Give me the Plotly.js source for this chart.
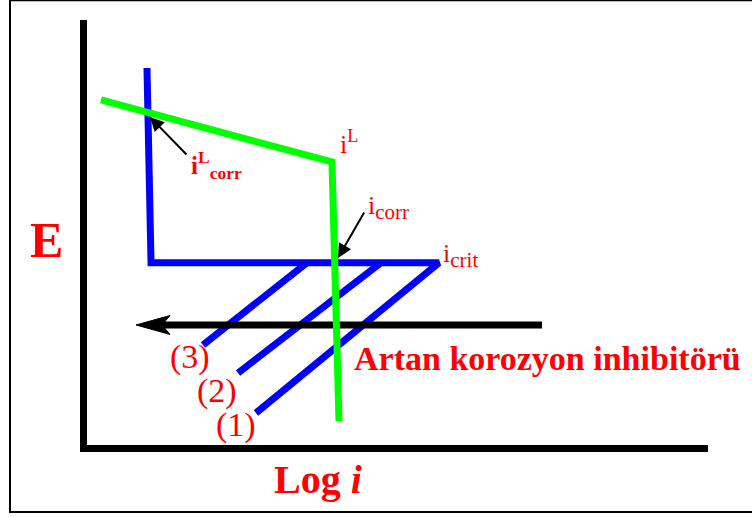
<!DOCTYPE html>
<html><head><meta charset="utf-8">
<script src="https://cdn.plot.ly/plotly-3.0.1.min.js"></script>
<style>html,body{margin:0;padding:0;background:#fff}#chart{width:752px;height:517px}</style>
</head><body><div id="chart"></div><script>
// Schematic data (arbitrary units: log i on x, E on y, both 0..10)
const anodicLogI = [0.966, 1.031, 5.668, 2.721];   // curve (1) incl. passive region
const anodicE    = [8.871, 4.29, 4.29, 0.753];
const curve2LogI = [4.734, 2.432];
const curve2E    = [4.29, 1.694];
const curve3LogI = [3.543, 1.868];
const curve3E    = [4.29, 2.353];
const cathLogI   = [0.225, 3.945, 4.058];
const cathE      = [8.118, 6.659, 0.565];
const inhibArrowLogI = [7.327, 0.789];   // tail, tip
const inhibArrowE    = [2.824, 2.824];
const iLcorrPoint = {x:1.014, y:7.718, tx:1.626, ty:6.8};
const icorrPoint  = {x:4.042, y:4.40, tx:4.477, ty:5.506};

// pixel geometry of plot area
const L = 87, R = 708, T = 20, B = 445;
const pxX = (R - L) / 10, pxY = (B - T) / 10;
const pX = p => (p - L) / (R - L);      // page px -> paper
const pY = p => (B - p) / (B - T);

// arrow head polygon for the big arrow, computed from tip
const tipX = inhibArrowLogI[1], tipY = inhibArrowE[1];
const headLen = 34, headHalf = 9.5, notch = 26;
const headX = [tipX, tipX + headLen / pxX, tipX + notch / pxX, tipX + headLen / pxX, tipX];
const headY = [tipY, tipY + headHalf / pxY, tipY, tipY - headHalf / pxY, tipY];

const serif = 'Liberation Serif, Times New Roman, serif';
const red = '#ff0000';

const traces = [
  {x: anodicLogI, y: anodicE, mode: 'lines', line: {color: '#0000ff', width: 7}},
  {x: curve2LogI, y: curve2E, mode: 'lines', line: {color: '#0000ff', width: 7}},
  {x: curve3LogI, y: curve3E, mode: 'lines', line: {color: '#0000ff', width: 7}},
  {x: [inhibArrowLogI[0], tipX + (notch - 2) / pxX], y: inhibArrowE, mode: 'lines', line: {color: '#000', width: 7}},
  {x: headX, y: headY, mode: 'lines', fill: 'toself', fillcolor: '#000', line: {color: '#000', width: 1}},
  {x: cathLogI, y: cathE, mode: 'lines', line: {color: '#00ff00', width: 7}}
];

function lbl(x, y, text, size, opts) {
  return Object.assign({x: x, y: y, xref: 'x', yref: 'y', text: text, showarrow: false,
    xanchor: 'center', yanchor: 'middle',
    font: {family: serif, size: size, color: red}}, opts || {});
}

const annotations = [
  {x: pX(46), y: pY(240), xref: 'paper', yref: 'paper', text: 'E', showarrow: false,
   xanchor: 'center', yanchor: 'middle', font: {family: serif, size: 50, color: red, weight: 'bold'}},
  {x: pX(318), y: pY(480), xref: 'paper', yref: 'paper', text: 'Log <i>i</i>', showarrow: false,
   xanchor: 'center', yanchor: 'middle', font: {family: serif, size: 40, color: red, weight: 'bold'}},
  lbl(4.27, 2.04, 'Artan korozyon inhibitörü', 34, {xanchor: 'left', font: {family: serif, size: 34, color: red, weight: 'bold'}}),
  lbl(1.659, 2.06, '(3)', 34),
  lbl(2.093, 1.26, '(2)', 34),
  lbl(2.399, 0.46, '(1)', 34),
  lbl(4.04, 7.12, 'i<sup>L</sup>', 26, {xanchor: 'left'}),
  lbl(1.64, 6.58, 'i<sup>L</sup><sub>corr</sub>', 25, {xanchor: 'left', font: {family: serif, size: 25, color: red, weight: 'bold'}}),
  lbl(4.50, 5.60, 'i<sub><span style="font-size:21px">corr</span></sub>', 26, {xanchor: 'left'}),
  lbl(5.70, 4.47, 'i<sub><span style="font-size:21px">crit</span></sub>', 26, {xanchor: 'left'}),
  {x: iLcorrPoint.x, y: iLcorrPoint.y, ax: iLcorrPoint.tx, ay: iLcorrPoint.ty, axref: 'x', ayref: 'y',
   xref: 'x', yref: 'y', text: '', showarrow: true, arrowhead: 2, arrowsize: 1.4, arrowwidth: 2, arrowcolor: '#000'},
  {x: icorrPoint.x, y: icorrPoint.y, ax: icorrPoint.tx, ay: icorrPoint.ty, axref: 'x', ayref: 'y',
   xref: 'x', yref: 'y', text: '', showarrow: true, arrowhead: 2, arrowsize: 1.4, arrowwidth: 2, arrowcolor: '#000'}
];

const shapes = [
  {type: 'line', xref: 'paper', yref: 'paper', x0: pX(10), x1: pX(10), y0: pY(0), y1: pY(513), line: {color: '#000', width: 2}},
  {type: 'line', xref: 'paper', yref: 'paper', x0: pX(9), x1: pX(752), y0: pY(512), y1: pY(512), line: {color: '#000', width: 2}},
  {type: 'line', xref: 'paper', yref: 'paper', x0: pX(9), x1: pX(752), y0: pY(0.5), y1: pY(0.5), line: {color: '#000', width: 1.5}}
];

const axis = {range: [0, 10], showgrid: false, zeroline: false, showticklabels: false, ticks: '',
  showline: true, linewidth: 7, linecolor: '#000', fixedrange: true};

Plotly.newPlot('chart', traces, {
  width: 752, height: 517, showlegend: false,
  margin: {l: L, r: 752 - R, t: T, b: 517 - B, pad: 0},
  paper_bgcolor: '#fff', plot_bgcolor: 'rgba(0,0,0,0)',
  xaxis: axis, yaxis: Object.assign({}, axis),
  annotations: annotations, shapes: shapes
}, {staticPlot: true});
</script></body></html>
